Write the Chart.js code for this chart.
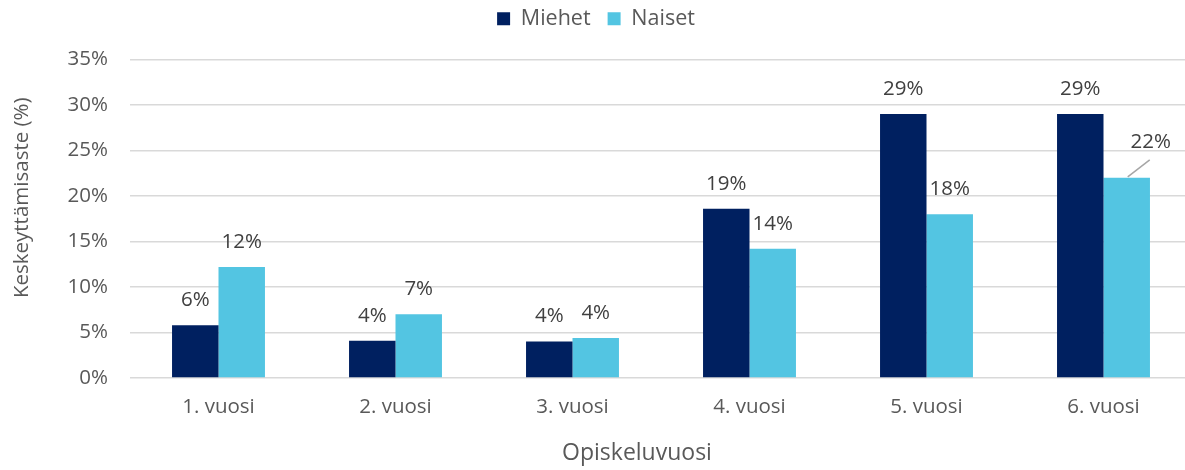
<!DOCTYPE html>
<html>
<head>
<meta charset="utf-8">
<script src="https://cdn.jsdelivr.net/npm/chart.js@4"></script>
<style>
  html, body { margin: 0; padding: 0; background: #fff; overflow: hidden; }
  #wrap { width: 1195px; height: 470px; position: relative; }
</style>
</head>
<body>
<div id="wrap"><canvas id="chart"></canvas></div>
<script>
const years = ['1. vuosi', '2. vuosi', '3. vuosi', '4. vuosi', '5. vuosi', '6. vuosi'];
const miehet = [5.8, 4.1, 4.0, 18.6, 29.0, 29.0];
const naiset = [12.2, 7.0, 4.4, 14.2, 18.0, 22.0];
const miehetLabels = ['6%', '4%', '4%', '19%', '29%', '29%'];
const naisetLabels = ['12%', '7%', '4%', '14%', '18%', '22%'];

const FONT = "'Open Sans', sans-serif";
const TEXT = '#595959';

// more room between legend and plot
const legendGap = {
  id: 'legendGap',
  beforeInit(chart) {
    let fit = chart.legend.fit;
    chart.legend.fit = function() {
      fit.bind(chart.legend)();
      this.height += 20;
    };
  }
};

// bar value labels, drawn above each bar like Excel "outside end"
const valueLabels = {
  id: 'valueLabels',
  afterDatasetsDraw(chart) {
    let ctx = chart.ctx;
    let texts = [miehetLabels, naisetLabels];
    ctx.save();
    ctx.font = '20.5px ' + FONT;
    ctx.fillStyle = '#404040';
    ctx.textAlign = 'center';
    ctx.textBaseline = 'middle';
    chart.data.datasets.forEach((ds, di) => {
      let meta = chart.getDatasetMeta(di);
      meta.data.forEach((bar, i) => {
        let x = bar.x;
        let y = bar.y - 25;
        // last naiset label is nudged aside with a leader line
        if(di === 1 && i === meta.data.length - 1) {
          x = bar.x + 24;
          y = bar.y - 36;
          ctx.strokeStyle = '#a6a6a6';
          ctx.lineWidth = 1.5;
          ctx.beginPath();
          ctx.moveTo(bar.x + 1, bar.y - 1);
          ctx.lineTo(bar.x + 23, bar.y - 18);
          ctx.stroke();
        }
        ctx.fillText(texts[di][i], x, y);
      });
    });
    ctx.restore();
  }
};

// axis titles, placed like in the Excel original
const axisTitles = {
  id: 'axisTitles',
  afterDraw(chart) {
    let ctx = chart.ctx;
    let area = chart.chartArea;
    ctx.save();
    ctx.fillStyle = TEXT;
    ctx.textAlign = 'center';
    ctx.textBaseline = 'middle';
    ctx.font = '23px ' + FONT;
    ctx.fillText('Opiskeluvuosi', area.left + (area.right - area.left) / 2 - 24, 453);
    ctx.font = '20.5px ' + FONT;
    ctx.translate(22, area.top + (area.bottom - area.top) / 2 - 21);
    ctx.rotate(-Math.PI / 2);
    ctx.fillText('Keskeyttämisaste (%)', 0, 0);
    ctx.restore();
  }
};

const config = {
  type: 'bar',
  data: {
    labels: years,
    datasets: [{
      label: 'Miehet',
      data: miehet,
      backgroundColor: '#002060',
      categoryPercentage: 0.525,
      barPercentage: 1.0,
    },
    {
      label: 'Naiset',
      data: naiset,
      backgroundColor: '#53C5E2',
      categoryPercentage: 0.525,
      barPercentage: 1.0,
    }],
  },
  options: {
    responsive: false,
    animation: false,
    devicePixelRatio: 1,
    layout: {
      padding: {top: -9, left: 0, right: 3, bottom: 0}
    },
    scales: {
      x: {
        grid: { display: false, drawTicks: false },
        border: { display: false },
        ticks: { color: TEXT, font: { family: FONT, size: 20.5 }, padding: 17 },
        afterFit: (scale) => { scale.height = 92; }
      },
      y: {
        min: 0,
        max: 35,
        ticks: {
          stepSize: 5,
          color: TEXT,
          font: { family: FONT, size: 20.5 },
          padding: 22,
          callback: (v) => v + '%'
        },
        grid: { color: '#d9d9d9', lineWidth: 1.6, drawTicks: false },
        border: { display: false },
        afterFit: (scale) => { scale.width = 130; }
      }
    },
    plugins: {
      legend: {
        position: 'top',
        labels: {
          color: TEXT,
          font: { family: FONT, size: 21.5 },
          boxWidth: 13,
          boxHeight: 13,
          padding: 17
        }
      },
      tooltip: { enabled: false }
    }
  },
  plugins: [legendGap, valueLabels, axisTitles]
};

let canvas = document.getElementById('chart');
canvas.width = 1195;
canvas.height = 470;
new Chart(canvas, config);
</script>
</body>
</html>
